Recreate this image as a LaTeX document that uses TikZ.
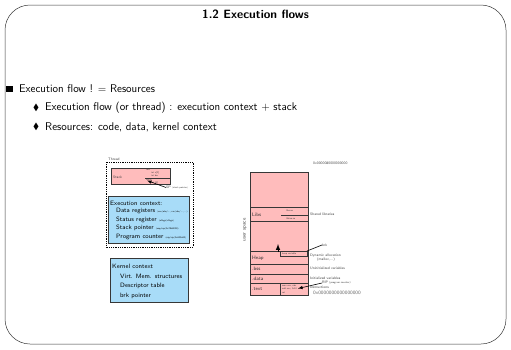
\documentclass[tikz,border=0pt]{standalone}
\usepackage{amssymb, amsfonts, amsmath}
\usepackage{tikz}
\usetikzlibrary{calc}
\definecolor{mempink}{RGB}{255,188,188}
\definecolor{ctxblue}{RGB}{168,220,248}
\definecolor{edgegray}{RGB}{55,55,55}

\begin{document}
\sffamily
\begin{tikzpicture}[x=1pt, y=-1pt, every node/.style={inner sep=0pt},
  seg/.style={draw=edgegray, line width=0.9pt, fill=mempink},
  ctx/.style={draw=edgegray, line width=0.9pt, fill=ctxblue},
  item/.style={anchor=west, font=\sffamily\fontsize{11.2}{13}\selectfont},
  small/.style={anchor=west, font=\sffamily\fontsize{6.3}{7}\selectfont},
  note/.style={anchor=west, font=\sffamily\fontsize{3.6}{4}\selectfont, text=black!75},
  tiny/.style={anchor=west, font=\sffamily\fontsize{2.4}{2.8}\selectfont, text=black!75},
  seglabel/.style={anchor=west, font=\sffamily\fontsize{5}{6}\selectfont, text=black!80}]
\useasboundingbox (0,0) rectangle (511,349);
\draw[edgegray, line width=0.5pt, rounded corners=25] (5,5) rectangle (506,344);
\node[font=\sffamily\bfseries\fontsize{12}{14}\selectfont] (title) at (255.5,14) {1.2 Execution flows};

% items
\node[anchor=west] (sq) at (6,89) {\rule{6.5pt}{6.5pt}};
\node[item] (it1) at (19,89) {Execution flow ! $=$ Resources};
\node[anchor=west, font=\fontsize{9}{10}\selectfont] (d1) at (33,108) {$\blacklozenge$};
\node[item] (it2) at (45,108) {Execution flow (or thread) : execution context $+$ stack};
\node[anchor=west, font=\fontsize{9}{10}\selectfont] (d2) at (33,127) {$\blacklozenge$};
\node[item] (it3) at (45,127) {Resources: code, data, kernel context};

% thread
\node[note, anchor=south west] (thread) at (108,160.5) {Thread};
\draw[densely dotted, line width=0.8pt] (106,162) rectangle (193,247);
\draw[seg] (111,168) rectangle (170,184);
\node[note] (stack) at (113,177) {Stack};
\node[tiny] (f1) at (146,170) {foo:};
\node[tiny] (f2) at (151,173) {int a[2]};
\node[tiny] (f3) at (151,176) {int bar};
\draw[edgegray, line width=0.9pt] (145,178.5) -- (170,178.5);
\node[tiny] (m1) at (146,180) {main:};
\node[tiny] (m2) at (151,183) {int i[3]};
\coordinate (sptip) at (147,180.5);
\node[note] (sp) at (166,187.5) {SP \fontsize{2.4}{2.8}\selectfont(stack pointer)};
\draw[-latex, line width=0.6pt] (sp.west) -- (sptip);

\draw[ctx] (108,196) rectangle (189,243);
\node[small] (exec) at (110,203) {Execution context:};
\node[small] (r1) at (116,211) {Data registers \fontsize{2.4}{2.8}\selectfont(eax/ebx/..., rax/rbx/..., ...)};
\node[small] (r2) at (116,219.5) {Status register \fontsize{2.4}{2.8}\selectfont(eflags/rflags)};
\node[small] (r3) at (116,228) {Stack pointer \fontsize{2.4}{2.8}\selectfont(esp/rsp/0x7ffe0000)};
\node[small] (r4) at (116,236.5) {Program counter \fontsize{2.4}{2.8}\selectfont(eip/rip/0x400a00)};

\draw[ctx] (110,258) rectangle (188,302);
\node[small] (kern) at (112,266) {Kernel context};
\node[small] (k1) at (120,276) {Virt. Mem. structures};
\node[small] (k2) at (120,286) {Descriptor table};
\node[small] (k3) at (120,296) {brk pointer};

% memory
\draw[seg] (250,172) rectangle (308,295);
\draw[edgegray, line width=0.9pt] (250,207.5) -- (308,207.5) (250,221.5) -- (308,221.5)
  (250,251) -- (308,251) (250,264) -- (308,264) (250,274) -- (308,274) (250,283.5) -- (308,283.5);
\node[note] (top) at (313,163) {0x0000080000000000};
\node[note, rotate=90, anchor=center, font=\sffamily\fontsize{5}{6}\selectfont] (user) at (245,230) {user space};
\node[seglabel] (libs) at (252,215) {Libs};
\node[tiny] (lc) at (286,211) {libc.so};
\draw[edgegray, line width=0.7pt] (281,215) -- (308,215);
\node[tiny] (lf) at (286,218.5) {libfoo.so};
\node[note] (shared) at (310,214) {Shared libraries};
\draw[edgegray, line width=0.6pt, fill=mempink] (280,251) rectangle (307,256);
\node[tiny] (hv) at (282,253.5) {heap variable};
\coordinate (heaptip) at (278,244);
\coordinate (heapfoot) at (278,252);
\draw[-latex, line width=1pt] (heapfoot) -- (heaptip);
\coordinate (brkpt) at (307,251);
\node[note] (brk) at (322,245) {brk};
\draw[line width=0.6pt] (brkpt) -- (brk.west);
\node[note] (dyn) at (310,255.5) {Dynamic allocation};
\node[note] (mal) at (317,259.5) {(malloc,...)};
\node[seglabel] (heap) at (252,258.5) {Heap};
\node[seglabel] (bss) at (252,269) {.bss};
\node[note] (unin) at (310,268) {Uninitialized variables};
\node[seglabel] (data) at (252,279) {.data};
\node[note] (init) at (310,278) {Initialized variables};
\node[seglabel] (text) at (252,289.5) {.text};
\draw[edgegray, line width=0.7pt] (280,283.5) -- (280,295);
\node[tiny] (t1) at (282,286) {mov eax, ebx};
\node[tiny] (t2) at (282,289.3) {add eax, 0x10};
\node[tiny] (t3) at (282,292.6) {ret};
\node[note] (rip) at (322,283) {RIP \fontsize{2.6}{3}\selectfont(program counter)};
\coordinate (riptip) at (298,288.5);
\draw[-latex, line width=0.6pt] (rip.west) -- (riptip);
\node[note] (instr) at (310,287.5) {Instructions};
\node[note, font=\sffamily\fontsize{5}{6}\selectfont, text=black!60] (bot) at (313,292.5) {0x0000000000000000};
\end{tikzpicture}
\end{document}
